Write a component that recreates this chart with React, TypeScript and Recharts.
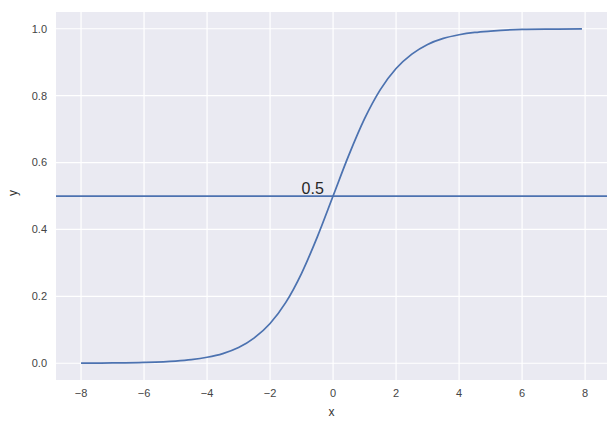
import React from "react";
import { LineChart, Line, XAxis, YAxis, CartesianGrid, ReferenceLine, ReferenceDot } from "recharts";

const xs = [-8, -7, -6, -5, -4.5, -4, -3.5, -3, -2.5, -2, -1.5, -1, -0.5, 0, 0.5, 1, 1.5, 2, 2.5, 3, 3.5, 4, 4.5, 5, 6, 7, 7.9];
const ys = [0.0003, 0.0009, 0.0025, 0.0067, 0.011, 0.018, 0.029, 0.047, 0.076, 0.119, 0.182, 0.269, 0.378, 0.5, 0.622, 0.731, 0.818, 0.881, 0.924, 0.953, 0.971, 0.982, 0.989, 0.993, 0.998, 0.999, 0.9996];
const xTicks = [-8, -6, -4, -2, 0, 2, 4, 6, 8];
const yTicks = [0, 0.2, 0.4, 0.6, 0.8, 1.0];
const refY = 0.5;
const labelX = -1;
const labelText = "0.5";

const data = xs.map((x, i) => ({ x, y: ys[i] }));

const font = "'Liberation Sans', Arial, sans-serif";

export default function App() {
  return (
    <div style={{ position: "absolute", left: 0, top: 0, width: 614, height: 425, background: "#fff" }}>
      <LineChart width={614} height={425} data={data} margin={{ top: 12, right: 7, bottom: 0, left: 0 }}>
        <CartesianGrid fill="#EAEAF2" stroke="#ffffff" strokeWidth={1.2} verticalValues={xTicks} horizontalValues={yTicks} />
        <XAxis
          dataKey="x"
          type="number"
          domain={[-8.795, 8.695]}
          ticks={xTicks}
          allowDataOverflow
          axisLine={false}
          tickLine={false}
          tickSize={0}
          tickMargin={9}
          height={45}
          tick={{ fill: "#444", fontSize: 11, fontFamily: font }}
          tickFormatter={(v: number) => (v < 0 ? "\u2212" + Math.abs(v) : String(v))}
          label={{ value: "x", position: "insideBottom", offset: 9, fill: "#333", fontSize: 12, fontFamily: font }}
        />
        <YAxis
          type="number"
          domain={[-0.05, 1.05]}
          ticks={yTicks}
          allowDataOverflow
          axisLine={false}
          tickLine={false}
          tickSize={0}
          tickMargin={9}
          width={56}
          tick={{ fill: "#444", fontSize: 11, fontFamily: font }}
          tickFormatter={(v: number) => v.toFixed(1)}
          label={{ value: "y", angle: -90, position: "insideLeft", offset: 13, fill: "#333", fontSize: 12, fontFamily: font }}
        />
        <ReferenceLine y={refY} stroke="#4C72B0" strokeWidth={1.75} ifOverflow="extendDomain" />
        <Line dataKey="y" type="monotone" stroke="#4C72B0" strokeWidth={1.75} dot={false} isAnimationActive={false} />
        <ReferenceDot
          x={labelX}
          y={refY}
          r={0}
          shape={(p: any) => (
            <text x={p.cx} y={p.cy - 2} fontSize={16} fill="#262626" fontFamily={font}>
              {labelText}
            </text>
          )}
        />
      </LineChart>
    </div>
  );
}
